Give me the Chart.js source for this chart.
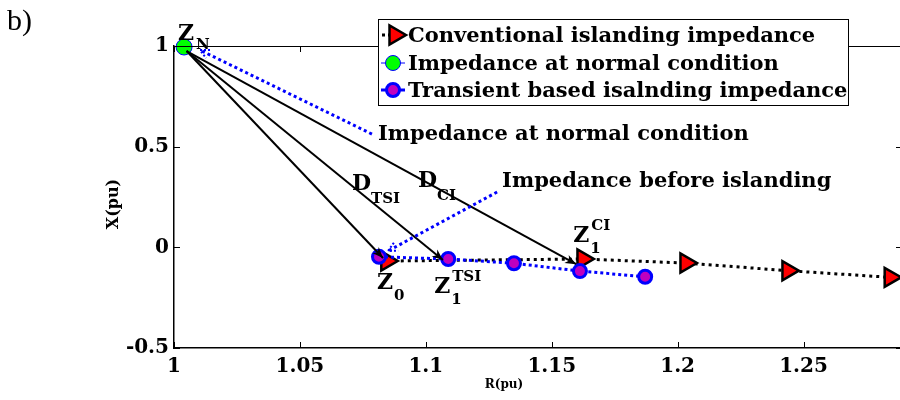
<!DOCTYPE html>
<html>
<head>
<meta charset="utf-8">
<script src="https://cdn.jsdelivr.net/npm/chart.js@4/dist/chart.umd.min.js"></script>
<style>
  html, body { margin: 0; padding: 0; background: #fff; }
  #wrap { position: relative; width: 900px; height: 400px; }
</style>
</head>
<body>
<div id="wrap"><canvas id="c" width="900" height="400"></canvas></div>
<script>
// Impedance trajectories in the R-X plane (per unit)
const seriesNames = [
  'Conventional islanding impedance',
  'Impedance at normal condition',
  'Transient based isalnding impedance'
];
const convR = [1.0845, 1.1624, 1.2033, 1.2438, 1.2844];
const convX = [-0.068, -0.058, -0.078, -0.116, -0.149];
const tsiR = [1.0814, 1.1089, 1.1350, 1.1612, 1.1871];
const tsiX = [-0.047, -0.058, -0.079, -0.118, -0.146];
const normalR = [1.004];
const normalX = [0.995];

const xTickValues = [1, 1.05, 1.1, 1.15, 1.2, 1.25];
const xTickLabels = ['1', '1.05', '1.1', '1.15', '1.2', '1.25'];
const yTickValues = [-0.5, 0, 0.5, 1];
const yTickLabels = ['-0.5', '0', '0.5', '1'];

// distance vectors from Z_N to the post-event impedances
const distStart = { r: 1.005, x: 0.975 };
const distEnds = [
  { r: 1.083, x: -0.053 },
  { r: 1.1068, x: -0.063 },
  { r: 1.1597, x: -0.084 }
];
// dotted pointer arrows (tail near text, head at the point)
const pointers = [
  { from: { r: 1.0786, x: 0.5626 }, to: { r: 1.0103, x: 0.980 } },
  { from: { r: 1.1283, x: 0.2746 }, to: { r: 1.0850, x: -0.018 } }
];
// text labels anchored in R-X coordinates (left, baseline)
const symbolLabels = [
  { base: 'Z', sub: 'N', sup: '', r: 1.0016, x: 1.029, subDx: 2, subDy: 9 },
  { base: 'D', sub: 'TSI', sup: '', r: 1.0707, x: 0.284, subDx: 0, subDy: 13 },
  { base: 'D', sub: 'CI', sup: '', r: 1.0969, x: 0.2994, subDx: 0, subDy: 13 },
  { base: 'Z', sub: '1', sup: 'CI', r: 1.1585, x: 0.0263, subDx: 1, subDy: 11 },
  { base: 'Z', sub: '0', sup: '', r: 1.0806, x: -0.207, subDx: 1, subDy: 11 },
  { base: 'Z', sub: '1', sup: 'TSI', r: 1.1033, x: -0.227, subDx: 1, subDy: 11 }
];
const textLabels = [
  { text: 'Impedance at normal condition', r: 1.081, x: 0.533 },
  { text: 'Impedance before islanding', r: 1.1303, x: 0.2994 }
];

const FAM = '"DejaVu Serif", serif';
const toPts = (rs, xs) => rs.map((r, i) => ({ x: r, y: xs[i] }));

function arrowHead(ctx, x1, y1, x2, y2, len, half, filled) {
  const a = Math.atan2(y2 - y1, x2 - x1);
  const ca = Math.cos(a), sa = Math.sin(a);
  const bx = x2 - ca * len, by = y2 - sa * len;
  const lx = bx - sa * half, ly = by + ca * half;
  const rx = bx + sa * half, ry = by - ca * half;
  ctx.beginPath();
  if (filled) {
    const nx = x2 - ca * len * 0.7, ny = y2 - sa * len * 0.7;
    ctx.moveTo(x2, y2); ctx.lineTo(lx, ly); ctx.lineTo(nx, ny); ctx.lineTo(rx, ry);
    ctx.closePath(); ctx.fill();
  } else {
    ctx.moveTo(lx, ly); ctx.lineTo(x2, y2); ctx.lineTo(rx, ry); ctx.stroke();
  }
}

function drawTriangle(ctx, x, y, r, fill, stroke, lw) {
  ctx.beginPath();
  ctx.moveTo(x + r, y);
  ctx.lineTo(x - r / 2, y - r * 0.866);
  ctx.lineTo(x - r / 2, y + r * 0.866);
  ctx.closePath();
  ctx.fillStyle = fill; ctx.fill();
  ctx.lineWidth = lw; ctx.strokeStyle = stroke; ctx.stroke();
}
function drawCircle(ctx, x, y, r, fill, stroke, lw) {
  ctx.beginPath();
  ctx.arc(x, y, r, 0, Math.PI * 2);
  ctx.fillStyle = fill; ctx.fill();
  ctx.lineWidth = lw; ctx.strokeStyle = stroke; ctx.stroke();
}

const decorations = {
  id: 'decorations',
  afterDatasetsDraw(chart) {
    const { ctx, chartArea: ca, scales: { x: sx, y: sy } } = chart;
    const px = r => sx.getPixelForValue(r);
    const py = v => sy.getPixelForValue(v);
    ctx.save();

    // frame: top line and inward ticks
    ctx.strokeStyle = '#000';
    ctx.lineWidth = 1.2;
    ctx.beginPath();
    ctx.moveTo(ca.left, ca.top + 0.5); ctx.lineTo(ca.right, ca.top + 0.5);
    ctx.stroke();
    ctx.lineWidth = 1;
    ctx.beginPath();
    xTickValues.forEach(v => {
      const p = Math.round(px(v)) + 0.5;
      ctx.moveTo(p, ca.bottom); ctx.lineTo(p, ca.bottom - 6);
      ctx.moveTo(p, ca.top); ctx.lineTo(p, ca.top + 6);
    });
    yTickValues.forEach(v => {
      const p = Math.round(py(v)) + 0.5;
      ctx.moveTo(ca.left, p); ctx.lineTo(ca.left + 6, p);
      ctx.moveTo(ca.right, p); ctx.lineTo(ca.right - 4, p);
    });
    ctx.stroke();

    // solid distance vectors
    ctx.strokeStyle = '#000';
    ctx.fillStyle = '#000';
    ctx.lineWidth = 2;
    distEnds.forEach(e => {
      const x1 = px(distStart.r), y1 = py(distStart.x);
      const x2 = px(e.r), y2 = py(e.x);
      ctx.beginPath(); ctx.moveTo(x1, y1); ctx.lineTo(x2, y2); ctx.stroke();
      arrowHead(ctx, x1, y1, x2, y2, 11, 4.5, true);
    });

    // dotted pointers
    ctx.strokeStyle = '#0000ff';
    ctx.lineWidth = 3;
    ctx.setLineDash([3, 3]);
    pointers.forEach(p => {
      const x1 = px(p.from.r), y1 = py(p.from.x);
      const x2 = px(p.to.r), y2 = py(p.to.x);
      ctx.beginPath(); ctx.moveTo(x1, y1); ctx.lineTo(x2, y2); ctx.stroke();
    });
    ctx.setLineDash([2, 2]);
    ctx.lineWidth = 2;
    pointers.forEach(p => {
      const x1 = px(p.from.r), y1 = py(p.from.x);
      const x2 = px(p.to.r), y2 = py(p.to.x);
      arrowHead(ctx, x1, y1, x2, y2, 9, 4.5, false);
    });
    ctx.setLineDash([]);

    // symbol labels
    ctx.fillStyle = '#000';
    ctx.textBaseline = 'alphabetic';
    ctx.textAlign = 'left';
    symbolLabels.forEach(l => {
      const x = px(l.r), y = py(l.x);
      ctx.font = 'bold 22px ' + FAM;
      ctx.fillText(l.base, x, y);
      const w = ctx.measureText(l.base).width;
      ctx.font = 'bold 15px ' + FAM;
      if (l.sub) ctx.fillText(l.sub, x + w + l.subDx, y + l.subDy);
      if (l.sup) ctx.fillText(l.sup, x + w + 2, y - 12);
    });
    ctx.font = 'bold 21px ' + FAM;
    textLabels.forEach(t => ctx.fillText(t.text, px(t.r), py(t.x)));

    // legend box
    const ds = chart.data.datasets;
    const bx = 378.5, by = 19.5, bw = 470, bh = 86;
    ctx.fillStyle = '#fff';
    ctx.fillRect(bx, by, bw, bh);
    ctx.strokeStyle = '#000';
    ctx.lineWidth = 1;
    ctx.strokeRect(bx, by, bw, bh);
    const rows = [35, 63, 90];
    const mx = 393;
    // row 1: dotted black with triangle
    ctx.strokeStyle = '#000'; ctx.lineWidth = 3; ctx.setLineDash([3, 3]);
    ctx.beginPath(); ctx.moveTo(382, rows[0]); ctx.lineTo(404, rows[0]); ctx.stroke();
    ctx.setLineDash([]);
    drawTriangle(ctx, mx + 2, rows[0], 11, ds[0].pointBackgroundColor, ds[0].pointBorderColor, 2.5);
    // row 2: thin blue with green circle
    ctx.strokeStyle = '#0000ff'; ctx.lineWidth = 1;
    ctx.beginPath(); ctx.moveTo(381, rows[1]); ctx.lineTo(405, rows[1]); ctx.stroke();
    drawCircle(ctx, mx, rows[1], 7.5, ds[1].pointBackgroundColor, ds[1].pointBorderColor, 1);
    // row 3: thick blue with magenta circle
    ctx.strokeStyle = '#0000ff'; ctx.lineWidth = 3;
    ctx.beginPath(); ctx.moveTo(381, rows[2]); ctx.lineTo(405, rows[2]); ctx.stroke();
    drawCircle(ctx, mx, rows[2], 6.5, ds[2].pointBackgroundColor, ds[2].pointBorderColor, 3);
    ctx.fillStyle = '#000';
    ctx.font = 'bold 21px ' + FAM;
    seriesNames.forEach((n, i) => ctx.fillText(n, 408, rows[i] + 7));

    // axis titles and panel tag
    ctx.font = 'bold 12px ' + FAM;
    ctx.textAlign = 'center';
    ctx.fillText('R(pu)', 504, 388);
    ctx.save();
    ctx.translate(118, 204);
    ctx.rotate(-Math.PI / 2);
    ctx.font = 'bold 16px ' + FAM;
    ctx.fillText('X(pu)', 0, 0);
    ctx.restore();
    ctx.textAlign = 'left';
    ctx.font = '30px "Liberation Serif", serif';
    ctx.fillText('b)', 7, 30);

    ctx.restore();
  }
};

new Chart(document.getElementById('c'), {
  type: 'scatter',
  data: {
    datasets: [
      {
        label: seriesNames[0],
        data: toPts(convR, convX),
        showLine: true,
        borderColor: '#000',
        borderWidth: 3,
        borderDash: [3, 4],
        pointStyle: 'triangle',
        rotation: 90,
        pointRadius: 11,
        pointBackgroundColor: '#ff0000',
        pointBorderColor: '#000',
        pointBorderWidth: 2.5,
        clip: false,
        order: 2
      },
      {
        label: seriesNames[1],
        data: toPts(normalR, normalX),
        showLine: false,
        pointRadius: 8,
        pointBackgroundColor: '#00ff00',
        pointBorderColor: '#0000ff',
        pointBorderWidth: 1,
        clip: false,
        order: 1
      },
      {
        label: seriesNames[2],
        data: toPts(tsiR, tsiX),
        showLine: true,
        borderColor: '#0000ff',
        borderWidth: 3,
        borderDash: [3, 3],
        pointRadius: 6.5,
        pointBackgroundColor: '#bf00bf',
        pointBorderColor: '#0000ff',
        pointBorderWidth: 3,
        clip: false,
        order: 0
      }
    ]
  },
  options: {
    responsive: false,
    animation: false,
    events: [],
    layout: { autoPadding: false, padding: { top: 46, left: 0, right: 0, bottom: 0 } },
    plugins: { legend: { display: false }, tooltip: { enabled: false } },
    scales: {
      x: {
        type: 'linear',
        min: 1,
        max: 1.2883,
        afterBuildTicks: s => { s.ticks = xTickValues.map(v => ({ value: v })); },
        afterFit: s => { s.height = 52; s.paddingLeft = 0; s.paddingRight = 0; },
        grid: { display: false, drawTicks: false },
        border: { display: true, color: '#000', width: 1.5 },
        ticks: {
          color: '#000',
          padding: 7,
          maxRotation: 0,
          font: { family: 'DejaVu Serif', size: 20, weight: 'bold' },
          callback: v => xTickLabels[xTickValues.indexOf(v)]
        }
      },
      y: {
        type: 'linear',
        min: -0.5,
        max: 1,
        afterBuildTicks: s => { s.ticks = yTickValues.map(v => ({ value: v })); },
        afterFit: s => { s.width = 174; s.paddingTop = 0; s.paddingBottom = 0; },
        grid: { display: false, drawTicks: false },
        border: { display: true, color: '#000', width: 1.5 },
        ticks: {
          color: '#000',
          padding: 5,
          font: { family: 'DejaVu Serif', size: 20, weight: 'bold' },
          callback: v => yTickLabels[yTickValues.indexOf(v)]
        }
      }
    }
  },
  plugins: [decorations]
});
</script>
</body>
</html>
